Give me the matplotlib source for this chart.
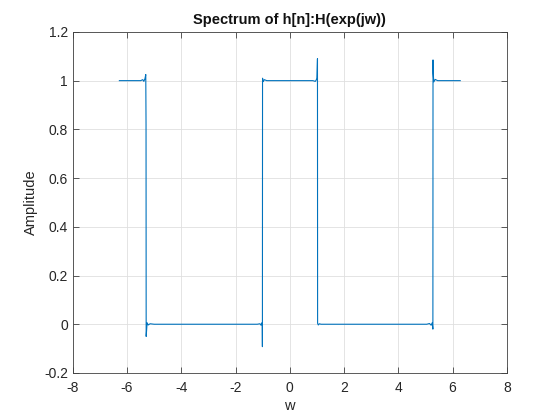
import numpy as np
import matplotlib.pyplot as plt

plt.rcParams['font.family'] = ['Liberation Sans', 'DejaVu Sans']

# frequency response (vertices incl. the Gibbs spikes)
w = [-6.283, -5.50, -5.42, -5.38, -5.34, -5.31, -5.30, -5.295, -5.26, -5.22, -5.15, -5.00,
     -1.20, -1.10, -1.06, -1.03, -1.015, -1.01, -1.005, -0.98, -0.94, -0.85,
     0.85, 0.94, 0.98, 1.00, 1.02, 1.025, 1.05, 1.09, 1.15, 1.25,
     5.05, 5.15, 5.21, 5.25, 5.275, 5.28, 5.285, 5.31, 5.36, 5.45, 6.283]
H = [1.0, 1.0, 1.004, 0.997, 1.008, 1.025, 0.82, -0.05, 0.006, -0.003, 0.002, 0.0,
     0.0, 0.002, -0.004, 0.006, 0.004, -0.092, 1.01, 0.996, 1.004, 1.0,
     1.0, 0.997, 1.004, 1.01, 1.09, 0.004, -0.003, 0.002, 0.0, 0.0,
     0.0, 0.003, -0.004, 0.006, -0.02, 1.085, 1.03, 0.995, 1.005, 1.0, 1.0]

xticks = [-8, -6, -4, -2, 0, 2, 4, 6, 8]
yticks = [-0.2, 0, 0.2, 0.4, 0.6, 0.8, 1, 1.2]
ylabels = ['-0.2', '0', '0.2', '0.4', '0.6', '0.8', '1', '1.2']

fig = plt.figure(figsize=(5.6, 4.2), dpi=100)
ax = fig.add_axes([0.13, 0.112, 0.775, 0.812])
ax.plot(w, H, color='#0072BD', linewidth=0.8)

ax.set_xlim(-8, 8)
ax.set_ylim(-0.2, 1.2)
ax.set_xticks(xticks)
ax.set_xticklabels([str(t) for t in xticks])
ax.set_yticks(yticks)
ax.set_yticklabels(ylabels)
ax.grid(True, color='#dfdfdf', linewidth=0.6)
ax.set_axisbelow(True)
ax.tick_params(direction='in', top=True, right=True, length=4, width=0.6,
               colors='#404040', labelsize=10, labelcolor='#262626')
ax.tick_params(axis='x', pad=6)
for s in ax.spines.values():
    s.set_color('#404040')
    s.set_linewidth(0.6)

ax.set_title('Spectrum of h[n]:H(exp(jw))', fontsize=10.5, fontweight='bold', color='#111111', pad=6)
ax.set_xlabel('w', fontsize=10.5, color='#262626', labelpad=3)
ax.set_ylabel('Amplitude', fontsize=10.5, color='#262626')

fig.savefig('out.png', dpi=100)
